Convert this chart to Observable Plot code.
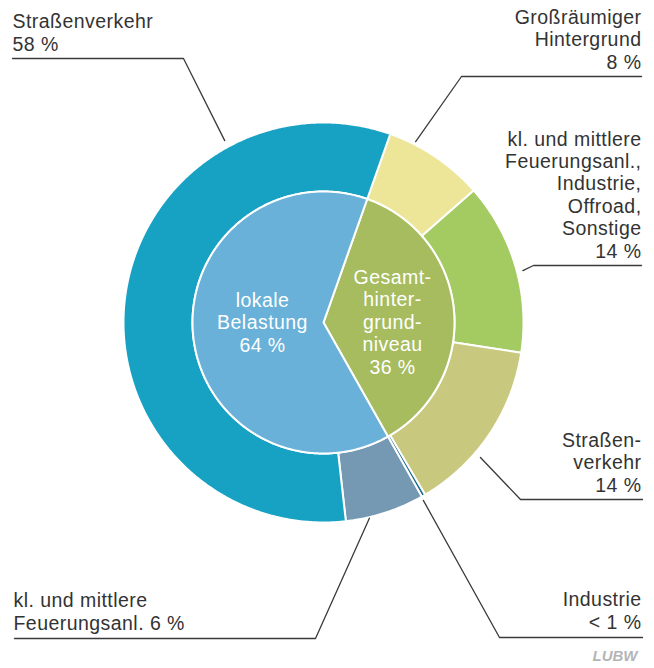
<!DOCTYPE html>
<html>
<head>
<meta charset="utf-8">
<script src="https://cdn.jsdelivr.net/npm/d3@7"></script>
<script src="https://cdn.jsdelivr.net/npm/@observablehq/plot@0.6"></script>
<style>
  html, body { margin: 0; padding: 0; background: #fff; }
  #chart svg { display: block; }
  #chart svg text.lbl { letter-spacing: 0.45px; }
</style>
</head>
<body>
<div id="chart"></div>
<script>
// ---------------- DATA ----------------
const innerCategories = ["Gesamthintergrundniveau", "Lokale Belastung"];
const innerLabels = ["Gesamt-\nhinter-\ngrund-\nniveau\n36 %", "lokale\nBelastung\n64 %"];

const outerCategories = [
  "Großräumiger Hintergrund",
  "kl. und mittlere Feuerungsanl., Industrie, Offroad, Sonstige",
  "Straßenverkehr (Hintergrund)",
  "Industrie",
  "kl. und mittlere Feuerungsanl.",
  "Straßenverkehr"
];
const outerParents = [
  "Gesamthintergrundniveau", "Gesamthintergrundniveau", "Gesamthintergrundniveau", "Gesamthintergrundniveau",
  "Lokale Belastung", "Lokale Belastung"
];
const outerValues = [8.1, 13.9, 14.1, 0.3, 6.4, 57.2];
const outerLabels = [
  "Großräumiger\nHintergrund\n8 %",
  "kl. und mittlere\nFeuerungsanl.,\nIndustrie,\nOffroad,\nSonstige\n14 %",
  "Straßen-\nverkehr\n14 %",
  "Industrie\n< 1 %",
  "kl. und mittlere\nFeuerungsanl. 6 %",
  "Straßenverkehr\n58 %"
];

// ---------------- STYLE / LAYOUT ----------------
const innerColors = ["#a6bc5f", "#69b1d8"];
const outerColors = ["#ede698", "#a3cb62", "#c8c97f", "#1e6b94", "#7598b3", "#17a2c4"];

const W = 654, H = 668, CX = 323, CY = 322;
const R_OUT = 200, R_IN = 131;
const START = 19.5 * Math.PI / 180;
const FONT = "'Liberation Sans', Arial, sans-serif";
const FS = 19.5, LH = 22.4 / 19.5;

// leader layout per outer slice (anchor angle in degrees clockwise from top, radius, elbow px, end px, text anchor)
const leaderLayout = [
  {angle: 27,    r: 203, elbow: [461, 76],  endX: 641, textX: 641, baseY: 68,  anchor: "end"},
  {angle: 75.4,  r: 206, elbow: [533, 265], endX: 641, textX: 641, baseY: 257, anchor: "end"},
  {angle: 130.7, r: 207, elbow: [520, 499], endX: 642, textX: 641, baseY: 491, anchor: "end"},
  {angle: 150.7, r: 204, elbow: [499, 637], endX: 642, textX: 641, baseY: 628, anchor: "end"},
  {angle: 166.8, r: 201, elbow: [315, 638], endX: 14,  textX: 13,  baseY: 629, anchor: "start"},
  {angle: 331.5, r: 207, elbow: [183, 58],  endX: 12,  textX: 12,  baseY: 50,  anchor: "start"}
];
const innerTextLayout = [
  {x: 392, baseY: 373},
  {x: 262, baseY: 351}
];

// pixel -> data helpers
const X = px => px - CX;
const Y = py => CY - py;

// ---------------- GEOMETRY ----------------
const innerValues = innerCategories.map(c =>
  d3.sum(outerValues.filter((v, i) => outerParents[i] === c)));

const pie = d3.pie().sort(null).startAngle(START).endAngle(START + 2 * Math.PI);
const innerArcs = pie(innerValues);
const outerArcs = pie(outerValues);

function slicePoints(key, a0, a1, r0, r1) {
  const pts = [];
  const n = Math.max(2, Math.ceil((a1 - a0) / (Math.PI / 360)));
  for (let i = 0; i <= n; i++) {
    const a = a0 + (a1 - a0) * i / n;
    pts.push({key, x: r1 * Math.sin(a), y: r1 * Math.cos(a)});
  }
  if (r0 > 0) {
    for (let i = n; i >= 0; i--) {
      const a = a0 + (a1 - a0) * i / n;
      pts.push({key, x: r0 * Math.sin(a), y: r0 * Math.cos(a)});
    }
  } else {
    pts.push({key, x: 0, y: 0});
  }
  return pts;
}

const innerKeys = innerCategories.map(c => "in:" + c);
const outerKeys = outerCategories.map(c => "out:" + c);

const slices = [
  ...outerArcs.flatMap((a, i) => slicePoints(outerKeys[i], a.startAngle, a.endAngle, R_IN, R_OUT)),
  ...innerArcs.flatMap((a, i) => slicePoints(innerKeys[i], a.startAngle, a.endAngle, 0, R_IN))
];

const leaders = leaderLayout.flatMap((L, i) => {
  const a = L.angle * Math.PI / 180;
  return [
    {key: i, x: L.r * Math.sin(a), y: L.r * Math.cos(a)},
    {key: i, x: X(L.elbow[0]), y: Y(L.elbow[1])},
    {key: i, x: X(L.endX), y: Y(L.elbow[1])}
  ];
});

const outerText = outerLabels.map((t, i) => ({
  text: t, x: X(leaderLayout[i].textX), y: Y(leaderLayout[i].baseY), anchor: leaderLayout[i].anchor
}));
const innerText = innerLabels.map((t, i) => ({
  text: t, x: X(innerTextLayout[i].x), y: Y(innerTextLayout[i].baseY)
}));

// ---------------- PLOT ----------------
const textOpts = {x: "x", y: "y", text: "text", lineAnchor: "bottom", fontSize: FS, lineHeight: LH, fontFamily: FONT, className: "lbl"};
const chart = Plot.plot({
  width: W,
  height: H,
  margin: 0,
  x: {domain: [-CX, W - CX], axis: null},
  y: {domain: [CY - H, CY], axis: null},
  color: {domain: [...outerKeys, ...innerKeys], range: [...outerColors, ...innerColors]},
  style: {background: "#fff", overflow: "visible"},
  marks: [
    Plot.line(slices, {x: "x", y: "y", z: "key", fill: "key", stroke: "white", strokeWidth: 2, curve: "linear-closed"}),
    Plot.line(leaders, {x: "x", y: "y", z: "key", stroke: "#3a3a3a", strokeWidth: 1.3}),
    Plot.text(outerText.filter(d => d.anchor === "end"), {...textOpts, textAnchor: "end", fill: "#333"}),
    Plot.text(outerText.filter(d => d.anchor === "start"), {...textOpts, textAnchor: "start", fill: "#333"}),
    Plot.text(innerText, {...textOpts, textAnchor: "middle", fill: "white"}),
    Plot.text(["LUBW"], {
      x: X(637), y: Y(660), textAnchor: "end", lineAnchor: "bottom",
      fontSize: 15, fontWeight: "bold", fontStyle: "italic",
      fontFamily: "'Liberation Sans Narrow', 'Liberation Sans', sans-serif", fill: "#b5b5b5"
    })
  ]
});
// apply the label class to text elements of label marks
chart.querySelectorAll("g.lbl text, text.lbl").forEach(t => t.classList.add("lbl"));
document.getElementById("chart").appendChild(chart);
</script>
</body>
</html>
